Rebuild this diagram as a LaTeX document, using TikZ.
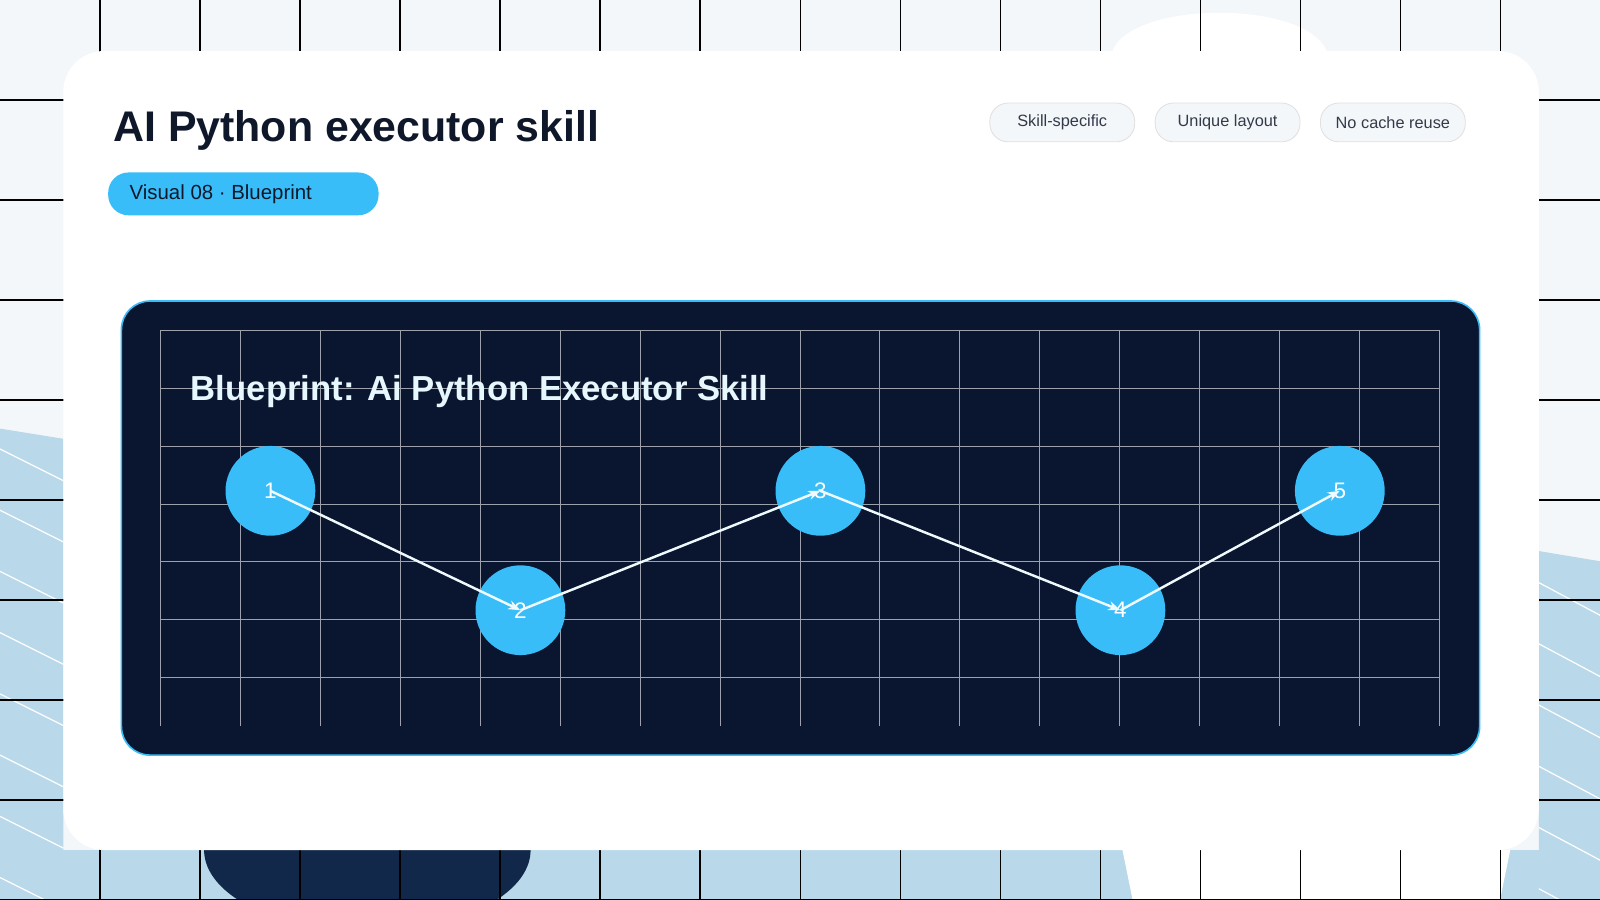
\documentclass[tikz,border=0pt]{standalone}
\usepackage{fontspec}
\setmainfont{Liberation Sans}
\usetikzlibrary{positioning, arrows.meta}
\definecolor{ink}{HTML}{0F172A}
\definecolor{sky}{HTML}{38BDF8}
\definecolor{navy}{HTML}{0A1530}
\definecolor{pale}{HTML}{B9D9EA}
\definecolor{mist}{HTML}{F3F7FA}
\definecolor{deep}{HTML}{12284A}
\begin{document}
\begin{tikzpicture}[x=0.5pt, y=-0.5pt,
  tag/.style={draw=black!12, fill=mist, rounded corners=9pt, minimum width=71pt, minimum height=19pt, font=\fontsize{8}{9}\selectfont, text=ink!85},
  stepnode/.style={circle, fill=sky, minimum size=44pt, inner sep=0pt, text=white, font=\fontsize{11}{12}\selectfont},
  link/.style={draw=white!92!sky, line width=1.2pt, -{Stealth[length=6pt]}}]
  \useasboundingbox (0,0) rectangle (1568,882);
  % backdrop
  \fill[mist] (0,0) rectangle (1568,882);
  \fill[pale] (0,420) -- (62,430) -- (62,833) -- (1508,833) -- (1508,540) -- (1568,550) -- (1568,882) -- (0,882) -- cycle;
  \begin{scope}
    \clip (0,420) -- (62,430) -- (62,882) -- (0,882) -- cycle;
    \foreach \k in {0,60,...,600} \draw[white, line width=0.6pt] (0,380+\k) -- (200,480+\k);
  \end{scope}
  \begin{scope}
    \clip (1508,540) -- (1568,550) -- (1568,882) -- (1508,882) -- cycle;
    \foreach \k in {0,60,...,400} \draw[white, line width=0.6pt] (1450,480+\k) -- (1600,560+\k);
  \end{scope}
  \fill[deep] (200,833) arc[start angle=180, end angle=360, x radius=160, y radius=-80] -- cycle;
  \fill[white] (1100,833) -- (1480,833) -- (1470,882) -- (1110,882) -- cycle;
  \fill[white] (1090,50) .. controls (1110,0) and (1280,0) .. (1300,50) -- cycle;
  \foreach \x in {98,196,...,1568} \draw[black, line width=0.5pt] (\x,0) -- (\x,882);
  \foreach \y in {98,196,...,882} \draw[black, line width=0.5pt] (0,\y) -- (1568,\y);
  % card
  \fill[white, rounded corners=20pt] (62,50) rectangle (1508,833);
  \node[anchor=west, text=ink, font=\bfseries\fontsize{21}{24}\selectfont] (title) at (104,128) {AI Python executor skill};
  \fill[sky, rounded corners=10pt] (106,169) rectangle (371,211);
  \node[anchor=west, text=ink, font=\fontsize{10}{12}\selectfont] (badge) at (120,190) {Visual 08 · Blueprint};
  \node[tag] (t1) at (1041,120) {Skill-specific};
  \node[tag] (t2) at (1203,120) {Unique layout};
  \node[tag] (t3) at (1365,120) {No cache reuse};
  % panel
  \filldraw[fill=navy, draw=sky, line width=0.8pt, rounded corners=14pt] (119,295) rectangle (1450,740);
  \foreach \i in {0,...,16} \draw[white!60!navy, line width=0.5pt] (157+78.375*\i,324) -- (157+78.375*\i,711);
  \foreach \j in {0,...,6} \draw[white!60!navy, line width=0.5pt] (157,324+56.67*\j) -- (1411,324+56.67*\j);
  \node[anchor=west, text=white!88!sky, font=\bfseries\fontsize{17}{20}\selectfont] (head) at (180,384) {Blueprint: Ai Python Executor Skill};
  \node[stepnode] (s1) at (265,481) {1};
  \node[stepnode] (s2) at (510,598) {2};
  \node[stepnode] (s3) at (804,481) {3};
  \node[stepnode] (s4) at (1098,598) {4};
  \node[stepnode] (s5) at (1313,481) {5};
  \draw[link] (s1.center) -- (s2.center);
  \draw[link] (s2.center) -- (s3.center);
  \draw[link] (s3.center) -- (s4.center);
  \draw[link] (s4.center) -- (s5.center);
\end{tikzpicture}
\end{document}
